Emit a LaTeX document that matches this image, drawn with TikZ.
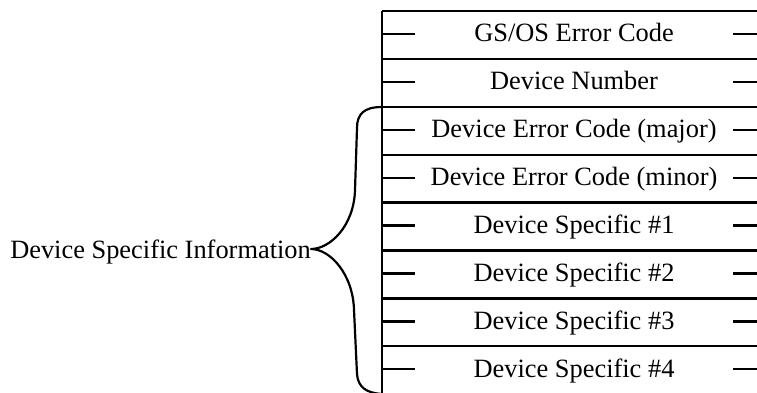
\documentclass[tikz,border=0pt]{standalone}
\usepackage{fontspec}
\setmainfont{Liberation Serif}
\begin{document}
\begin{tikzpicture}[x=1pt,y=-1pt,
  rowtext/.style={anchor=base,inner sep=0pt,font=\fontsize{26.4}{30}\selectfont},
  rule/.style={line width=2.3pt},
  tick/.style={line width=2.3pt},
  bracestyle/.style={line width=2.2pt,line cap=round,line join=round}]
\useasboundingbox (0,0) rectangle (757,393);
\def\rh{47.9}
% cell frame
\draw[rule] (382,11) -- (382,394);
\foreach \i in {0,...,7}{
  \draw[rule] (382,{11+\i*\rh}) -- (758,{11+\i*\rh});
}
% ticks and labels
\foreach \t [count=\i from 0] in {GS/OS Error Code,Device Number,Device Error Code (major),Device Error Code (minor),Device Specific \#1,Device Specific \#2,Device Specific \#3,Device Specific \#4}{
  \pgfmathsetmacro{\yc}{11+\i*\rh+\rh/2-1}
  \draw[tick] (382,\yc) -- (415,\yc);
  \draw[tick] (733,\yc) -- (758,\yc);
  \node[rowtext] (r\i) at (574,{\yc+8}) {\t};
}
% brace and label
\node[rowtext,anchor=base east] (info) at (311,258) {Device Specific Information};
\coordinate (btop) at (382,107);
\coordinate (bbot) at (382,394);
\draw[bracestyle] (btop) .. controls (364,107) and (357,114) .. (357,128)
  -- (355,190) .. controls (354,226) and (330,249) .. (info.east |- 0,249)
  .. controls (330,249) and (353,274) .. (354,310)
  -- (357,374) .. controls (358,387) and (366,393) .. (bbot);
\end{tikzpicture}
\end{document}
